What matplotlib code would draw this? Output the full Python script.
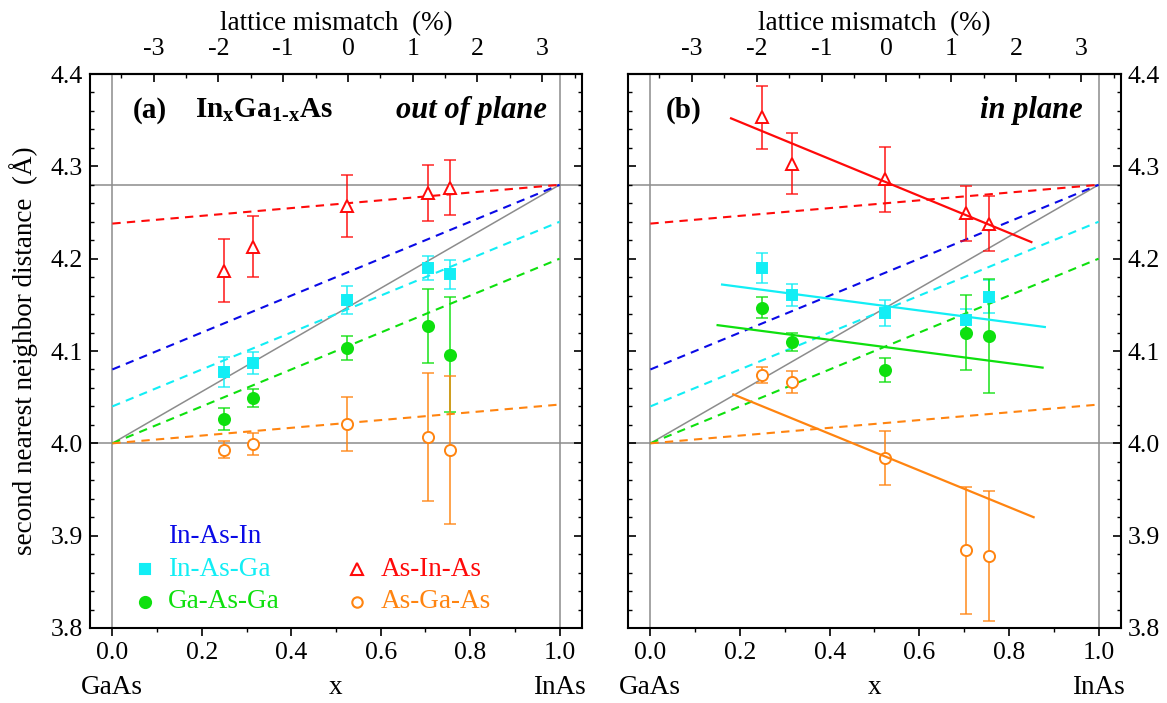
import matplotlib
matplotlib.use("Agg")
import matplotlib.pyplot as plt
from matplotlib.ticker import MultipleLocator
import matplotlib.transforms as mtransforms

plt.rcParams['font.family'] = ['Liberation Serif', 'DejaVu Serif']
plt.rcParams['mathtext.fontset'] = 'custom'
plt.rcParams['mathtext.rm'] = 'Liberation Serif'
plt.rcParams['mathtext.bf'] = 'Liberation Serif:bold'
plt.rcParams['mathtext.it'] = 'Liberation Serif:italic'

# composition x of the samples
x_conc = [0.25, 0.315, 0.524, 0.705, 0.756]

# (a) out of plane
a_InAsGa = [4.077, 4.087, 4.155, 4.190, 4.183]
a_InAsGa_err = [0.016, 0.012, 0.015, 0.013, 0.016]
a_GaAsGa = [4.026, 4.049, 4.103, 4.127, 4.096]
a_GaAsGa_err = [0.012, 0.010, 0.013, 0.040, 0.062]
a_AsInAs = [4.187, 4.213, 4.257, 4.271, 4.277]
a_AsInAs_err = [0.034, 0.033, 0.034, 0.030, 0.030]
a_AsGaAs = [3.993, 3.999, 4.021, 4.007, 3.993]
a_AsGaAs_err = [0.009, 0.012, 0.029, 0.069, 0.080]

# (b) in plane
b_InAsGa = [4.190, 4.161, 4.141, 4.134, 4.159]
b_InAsGa_err = [0.016, 0.012, 0.014, 0.012, 0.018]
b_GaAsGa = [4.147, 4.110, 4.079, 4.120, 4.116]
b_GaAsGa_err = [0.011, 0.010, 0.013, 0.041, 0.062]
b_AsInAs = [4.353, 4.303, 4.286, 4.249, 4.238]
b_AsInAs_err = [0.034, 0.033, 0.035, 0.030, 0.030]
b_AsGaAs = [4.074, 4.066, 3.984, 3.884, 3.878]
b_AsGaAs_err = [0.009, 0.012, 0.029, 0.069, 0.070]

# linear fits drawn in (b)
fit_AsInAs_x, fit_AsInAs_y = [0.18, 0.85], [4.352, 4.218]
fit_InAsGa_x, fit_InAsGa_y = [0.16, 0.88], [4.172, 4.126]
fit_GaAsGa_x, fit_GaAsGa_y = [0.15, 0.875], [4.128, 4.082]
fit_AsGaAs_x, fit_AsGaAs_y = [0.185, 0.855], [4.053, 3.920]

# reference lines (dashed), from x=0 to x=1
ref_x = [0.0, 1.0]
ref_InAsIn = [4.08, 4.28]
ref_InAsGa = [4.04, 4.24]
ref_GaAsGa = [4.00, 4.20]
ref_AsInAs = [4.238, 4.28]
ref_AsGaAs = [4.00, 4.042]
d_GaAs, d_InAs = 4.00, 4.28
vegard = [4.00, 4.28]

mismatch_ticks = [-3, -2, -1, 0, 1, 2, 3]

BLUE = '#0a0ae6'
CYAN = '#12eef5'
GREEN = '#0ee00e'
RED = '#ff0a0a'
ORANGE = '#ff8410'
GRAY = '#8c8c8c'

TICK_FS = 18.5
LABEL_FS = 19.5

fig = plt.figure(figsize=(11.67, 7.03), dpi=100)
ax1 = fig.add_axes([0.0771, 0.1067, 0.4216, 0.788])
ax2 = fig.add_axes([0.5381, 0.1067, 0.4225, 0.788])


def x2m(x):
    return 6.91 * x - 3.64


def m2x(m):
    return (m + 3.64) / 6.91


def setup(ax, right_labels):
    ax.set_xlim(-0.05, 1.05)
    ax.set_ylim(3.8, 4.4)
    ax.xaxis.set_major_locator(MultipleLocator(0.2))
    ax.xaxis.set_minor_locator(MultipleLocator(0.1))
    ax.yaxis.set_major_locator(MultipleLocator(0.1))
    ax.yaxis.set_minor_locator(MultipleLocator(0.02))
    ax.xaxis.set_major_formatter(plt.FormatStrFormatter('%.1f'))
    ax.yaxis.set_major_formatter(plt.FormatStrFormatter('%.1f'))
    ax.tick_params(axis='x', which='both', direction='out', top=False, labelsize=TICK_FS, pad=4)
    ax.tick_params(axis='x', which='major', length=6, width=1.2)
    ax.tick_params(axis='x', which='minor', length=3, width=1.0)
    ax.tick_params(axis='y', which='both', direction='in', left=True, right=True,
                   labelleft=not right_labels, labelright=right_labels, labelsize=TICK_FS, pad=5)
    ax.tick_params(axis='y', which='major', length=6, width=1.2)
    ax.tick_params(axis='y', which='minor', length=3, width=1.0)
    for s in ax.spines.values():
        s.set_linewidth(1.5)

    sec = ax.secondary_xaxis('top', functions=(x2m, m2x))
    sec.set_xticks(mismatch_ticks)
    sec.xaxis.set_minor_locator(MultipleLocator(0.5))
    sec.set_xticklabels([str(t) for t in mismatch_ticks])
    sec.tick_params(which='both', direction='in', labelsize=TICK_FS, pad=10)
    sec.tick_params(which='major', length=6, width=1.2)
    sec.tick_params(which='minor', length=3, width=1.0)
    sec.spines['top'].set_linewidth(1.5)
    sec.set_xlabel('lattice mismatch  (%)', fontsize=LABEL_FS, labelpad=6)

    # guide lines
    ax.axhline(d_GaAs, color=GRAY, lw=1.1, zorder=1)
    ax.axhline(d_InAs, color=GRAY, lw=1.1, zorder=1)
    ax.axvline(0.0, color=GRAY, lw=1.1, zorder=1)
    ax.axvline(1.0, color=GRAY, lw=1.1, zorder=1)
    ax.plot(ref_x, vegard, color=GRAY, lw=1.1, zorder=1)

    dash = (0, (4, 3))
    ax.plot(ref_x, ref_InAsIn, color=BLUE, lw=1.5, ls=dash, zorder=2)
    ax.plot(ref_x, ref_InAsGa, color=CYAN, lw=1.5, ls=dash, zorder=2)
    ax.plot(ref_x, ref_GaAsGa, color=GREEN, lw=1.5, ls=dash, zorder=2)
    ax.plot(ref_x, ref_AsInAs, color=RED, lw=1.5, ls=dash, zorder=2)
    ax.plot(ref_x, ref_AsGaAs, color=ORANGE, lw=1.5, ls=dash, zorder=2)

    trans = mtransforms.blended_transform_factory(ax.transData, ax.transAxes)
    ax.text(0.0, -0.107, 'GaAs', transform=trans, ha='center', va='center', fontsize=LABEL_FS)
    ax.text(0.5, -0.107, 'x', transform=trans, ha='center', va='center', fontsize=LABEL_FS)
    ax.text(1.0, -0.107, 'InAs', transform=trans, ha='center', va='center', fontsize=LABEL_FS)


def points(ax, y, err, color, marker, ms, filled):
    ax.errorbar(x_conc, y, yerr=err, fmt='none', ecolor=color, elinewidth=1.4,
                capsize=4, capthick=1.3, alpha=0.75, zorder=3)
    ax.plot(x_conc, y, ls='none', marker=marker, ms=ms, color=color,
            mfc=color if filled else 'white', mec=color, mew=1.4, zorder=4)


setup(ax1, False)
setup(ax2, True)

ax1.set_ylabel('second nearest neighbor distance  (Å)', fontsize=LABEL_FS, labelpad=9)

points(ax1, a_AsInAs, a_AsInAs_err, RED, '^', 9, False)
points(ax1, a_InAsGa, a_InAsGa_err, CYAN, 's', 6.5, True)
points(ax1, a_GaAsGa, a_GaAsGa_err, GREEN, 'o', 8, True)
points(ax1, a_AsGaAs, a_AsGaAs_err, ORANGE, 'o', 8, False)

points(ax2, b_AsInAs, b_AsInAs_err, RED, '^', 9, False)
points(ax2, b_InAsGa, b_InAsGa_err, CYAN, 's', 6.5, True)
points(ax2, b_GaAsGa, b_GaAsGa_err, GREEN, 'o', 8, True)
points(ax2, b_AsGaAs, b_AsGaAs_err, ORANGE, 'o', 8, False)

ax2.plot(fit_AsInAs_x, fit_AsInAs_y, color=RED, lw=1.6, zorder=5)
ax2.plot(fit_InAsGa_x, fit_InAsGa_y, color=CYAN, lw=1.6, zorder=5)
ax2.plot(fit_GaAsGa_x, fit_GaAsGa_y, color=GREEN, lw=1.6, zorder=5)
ax2.plot(fit_AsGaAs_x, fit_AsGaAs_y, color=ORANGE, lw=1.6, zorder=5)

# panel titles
TITLE_FS = 21
ax1.text(0.087, 0.935, '(a)', transform=ax1.transAxes, fontsize=TITLE_FS, fontweight='bold', va='center')
ax1.text(0.213, 0.935, r'In$_{\mathbf{x}}$Ga$_{\mathbf{1\text{-}x}}$As', transform=ax1.transAxes,
         fontsize=TITLE_FS, fontweight='bold', va='center')
ax1.text(0.929, 0.935, 'out of plane', transform=ax1.transAxes, fontsize=TITLE_FS + 1,
         fontweight='bold', style='italic', ha='right', va='center')
ax2.text(0.077, 0.935, '(b)', transform=ax2.transAxes, fontsize=TITLE_FS, fontweight='bold', va='center')
ax2.text(0.923, 0.935, 'in plane', transform=ax2.transAxes, fontsize=TITLE_FS + 1,
         fontweight='bold', style='italic', ha='right', va='center')

# legend, drawn by hand in panel (a)
leg_items = [
    (None, None, BLUE, 'In-As-In', 0.112, 0.166, True),
    ('s', 6.5, CYAN, 'In-As-Ga', 0.112, 0.106, True),
    ('o', 8, GREEN, 'Ga-As-Ga', 0.112, 0.047, True),
    ('^', 8.5, RED, 'As-In-As', 0.543, 0.106, False),
    ('o', 7.5, ORANGE, 'As-Ga-As', 0.543, 0.047, False),
]
for mk, ms, col, lab, lx, ly, filled in leg_items:
    if mk is not None:
        ax1.plot([lx], [ly], transform=ax1.transAxes, marker=mk, ms=ms, color=col,
                 mfc=col if filled else 'white', mec=col, mew=1.5, ls='none', clip_on=False)
    ax1.text(lx + 0.047, ly, lab, transform=ax1.transAxes, color=col, fontsize=LABEL_FS, va='center')

fig.savefig('out.png', dpi=100)
